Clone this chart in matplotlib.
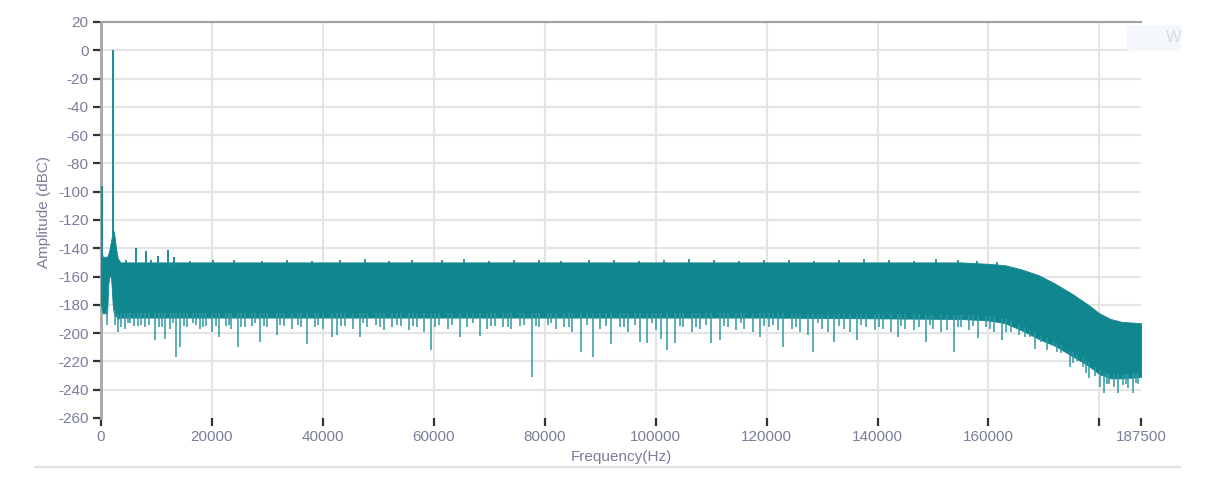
import numpy as np
import matplotlib
matplotlib.use('Agg')
import matplotlib.pyplot as plt
from matplotlib.lines import Line2D
from matplotlib.patches import Rectangle

# Noise band envelope (Hz, dBC)
band_freq = [0, 300, 1100, 1300, 1500, 1800, 2100, 2300, 2700, 3000, 3500, 10000,
             40000, 80000, 120000, 155000, 160000, 163000, 166000, 169000, 172000,
             175000, 178000, 180000, 182000, 184000, 187500]
band_top = [-140, -146, -146, -144, -141, -135, -128, -128, -140, -147, -150, -150,
            -150, -150, -150, -150, -151, -152, -155, -159, -165,
            -172, -180, -186, -190, -192, -193]
band_bottom = [-180, -186, -186, -165, -160, -160, -180, -186, -188, -190, -189, -189,
               -189, -189, -189, -190, -191, -193, -198, -204, -209,
               -216, -223, -229, -232, -232, -231]

# Tones standing above the floor
tone_freq = [200, 2200, 6250, 8100, 10200, 12000, 13200, 20200]
tone_db = [-96, 0, -139.5, -142, -145.5, -141.5, -146.5, -148]

# small bumps on the top edge of the floor
crest_freq = [4500, 9000, 16000, 24000, 29000, 33500, 38000, 43000, 47500, 52000,
              56000, 61500, 65500, 70000, 74500, 79000, 83000, 88000, 92500, 97000,
              101500, 106000, 110500, 115000, 119500, 124000, 128500, 133000, 137500,
              142000, 146500, 150500, 154500, 158000, 161500]
crest_db = [-148.5, -148, -149, -148.5, -149, -148, -149, -148.5, -147.5, -149,
            -148.5, -148, -147.5, -149, -148.5, -148, -149, -148.5, -148, -149,
            -148.5, -147.5, -148.5, -149, -148, -148.5, -149, -148, -147.5,
            -148.5, -149, -147.5, -148.5, -149, -150]

# Single deep bins below the floor
dip_freq = [1000, 3100, 3600, 4300, 5200, 6000, 7200, 8000, 9700, 10500, 11500, 12500,
            13500, 14200, 15500, 16500, 17800, 19000, 20000, 21300, 22500, 23500, 24700,
            26000, 27300, 28700, 30000, 31700, 33000, 34500, 35500, 37100, 38500, 40000,
            41600, 42500, 44000, 45500, 46700, 48000, 49500, 51000, 52500, 54000, 55500,
            57000, 58200, 59500, 61000, 62500, 64700, 66000, 68300, 69500, 71000, 72500,
            74000, 75500, 77700, 79000, 80500, 82000, 83500, 85000, 86500, 88700, 90000,
            92000, 93500, 95000, 97200, 98500, 100000, 101000, 102000, 103500, 105000,
            106500, 108000, 110000, 111600, 113000, 114500, 116000, 117500, 118800,
            120500, 122000, 123000, 124500, 126000, 127500, 128400, 130000, 131000,
            132200, 134000, 135000, 136300, 138000, 139500, 141000, 142500, 143700,
            145000, 146500, 147500, 148800, 150000, 151500, 152500, 153800, 155000,
            156500, 158100, 159500, 161000, 162400, 164000, 165500, 166500, 168400,
            169500, 170600, 171800, 173000, 174700, 176000, 177000, 178200, 179200,
            180100, 180900, 181800, 182600, 183400, 184300, 185200, 186100, 187000]
dip_db = [-194, -199, -196, -197, -193, -195, -194, -196, -205, -196, -204, -197,
          -217, -210, -196, -193, -197, -195, -199, -203, -195, -197, -210,
          -196, -195, -206, -196, -201, -195, -197, -194, -208, -196, -197,
          -203, -201, -195, -197, -202.5, -196, -194, -198, -196, -195, -198,
          -196, -199, -212, -194, -197, -203, -196, -202, -197, -195, -196,
          -197, -195, -231, -196, -194, -197, -196, -199, -213, -217, -197,
          -208, -196, -199, -206, -207, -198, -204, -212, -207, -196,
          -199, -197, -207, -205, -196, -198, -197, -199, -202.5,
          -196, -198, -210, -197, -199, -201, -213, -197, -199,
          -206, -197, -199, -205, -196, -198, -197, -199, -202.5,
          -197, -198, -196, -206, -197, -199, -198, -213, -196,
          -198, -203.5, -196, -199, -205, -199, -201, -203, -211,
          -206, -212, -209, -214, -224, -220, -224, -232, -230,
          -238, -242, -236, -238, -242, -237, -239, -242, -236]

# shallow teeth along the lower edge of the floor
tooth_freq = [2500, 4800, 6600, 8600, 11000, 13000, 15000, 17200, 18400, 20700, 23000,
              25300, 27800, 29300, 32300, 36000, 39200, 43300, 47300, 50300, 53300,
              56300, 60300, 63300, 67000, 70300, 73300, 76300, 78400, 81200, 84300,
              87600, 91000, 94300, 96200, 99300, 104300, 107300, 109000, 112300, 115300,
              119600, 121200, 125300, 129300, 133100, 137100, 140300, 144300, 149400,
              154500, 157300, 160300, 163200, 167400, 172400, 175300, 177600, 181300,
              184800, 186600]
tooth_db = [-194, -193, -195, -194, -196, -193, -195, -194, -196, -195, -194,
            -196, -193, -195, -194, -196, -194, -195, -193, -196, -194,
            -195, -196, -194, -193, -195, -196, -194, -195, -193, -196,
            -194, -195, -196, -194, -193, -195, -196, -194, -195, -193,
            -195, -194, -196, -193, -195, -194, -196, -195, -194,
            -196, -195, -197, -199, -203, -213, -221, -228, -236,
            -236, -235]

x_ticks = [0, 20000, 40000, 60000, 80000, 100000, 120000, 140000, 160000, 180000, 187500]
x_labels = ['0', '20000', '40000', '60000', '80000', '100000', '120000', '140000',
            '160000', '', '187500']
y_ticks = list(range(-260, 21, 20))

teal = '#10868f'
label_col = '#7a7d9b'

plt.rcParams['font.family'] = ['Liberation Sans', 'DejaVu Sans']
plt.rcParams['axes.unicode_minus'] = False

fig = plt.figure(figsize=(12.22, 4.83), dpi=100)
ax = fig.add_axes([0.0827, 0.1346, 0.851, 0.82])

ax.fill_between(band_freq, band_bottom, band_top, color=teal, linewidth=0.6,
                edgecolor=teal, zorder=3)
low = np.interp(dip_freq + tooth_freq, band_freq, band_bottom) + 3
ax.vlines(dip_freq + tooth_freq, dip_db + tooth_db, low, color='#2e98a3',
          linewidth=1.1, zorder=3)
top = np.interp(crest_freq, band_freq, band_top) - 2
ax.vlines(crest_freq, top, crest_db, color=teal, linewidth=1.2, zorder=3)
tone_base = np.interp(tone_freq, band_freq, band_top) - 3
ax.vlines(tone_freq, tone_base, tone_db, color='#1a8c98', linewidth=1.4, zorder=4)

ax.set_xlim(0, 187500)
ax.set_ylim(-260, 20)
ax.set_xticks(x_ticks)
ax.set_xticklabels(x_labels)
ax.set_yticks(y_ticks)

ax.grid(True, color='#e4e4e4', linewidth=1.5, zorder=0)
ax.set_axisbelow(True)
ax.get_xgridlines()[-1].set_visible(False)
ax.get_ygridlines()[0].set_visible(False)
for s in ['right', 'bottom']:
    ax.spines[s].set_visible(False)
ax.spines['left'].set_color('#a6a6a6')
ax.spines['left'].set_linewidth(2)
ax.spines['top'].set_color('#a0a0a0')
ax.spines['top'].set_linewidth(1.5)

ax.tick_params(axis='y', length=6, width=1.6, color='#333333', labelsize=11,
               labelcolor=label_col, pad=3)
ax.tick_params(axis='x', length=6, width=1.6, color='#333333', labelsize=11,
               labelcolor=label_col, pad=3)

ax.set_xlabel('Frequency(Hz)', fontsize=11, color=label_col, labelpad=4)
ax.set_ylabel('Amplitude (dBC)', fontsize=11, color=label_col)
ax.yaxis.set_label_coords(-0.048, 0.52)

# separator line under the chart
fig.add_artist(Line2D([35 / 1222, 1180 / 1222], [1 - 467 / 483, 1 - 467 / 483],
                      color='#e2e2e2', linewidth=1.6))
# faint legend stub at top right
fig.add_artist(Rectangle((1127 / 1222, 1 - 51 / 483), 54 / 1222, 26 / 483,
                         facecolor='#f4f8fd', edgecolor='none'))
fig.text(1166 / 1222, 1 - 38 / 483, 'W', fontsize=12, color='#d9dce1',
         va='center', ha='left')

fig.savefig('out.png', dpi=100)
